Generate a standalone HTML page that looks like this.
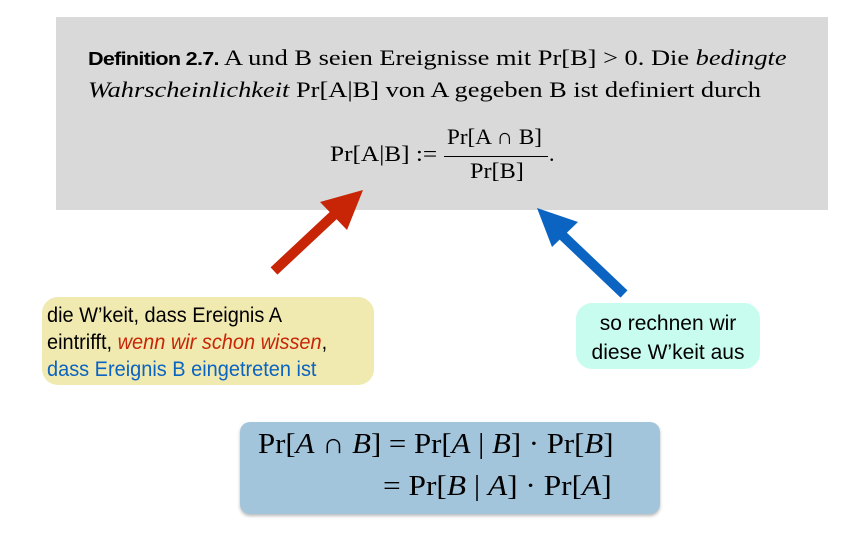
<!DOCTYPE html>
<html><head><style>
body{margin:0;width:856px;height:536px;background:#fff;position:relative;overflow:hidden;font-family:"Liberation Serif",serif}
.a{position:absolute;white-space:nowrap;transform-origin:0 0}
.s{font-family:"Liberation Sans",sans-serif;font-size:20px;line-height:27px}
</style></head><body>
<div class="a" style="left:56px;top:17px;width:772px;height:193px;background:#d9d9d9"></div>
<div class="a" style="left:88px;top:45px;font-size:22px;transform:scaleX(1.2)"><span style="font-family:'Liberation Sans',sans-serif;font-weight:bold;font-size:18px;letter-spacing:-0.6px">Definition 2.7.</span> A und B seien Ereignisse mit Pr[B] &gt; 0. Die <i>bedingte</i></div>
<div class="a" style="left:88px;top:77px;font-size:22px;transform:scaleX(1.2)"><i>Wahrscheinlichkeit</i> Pr[A|B] von A gegeben B ist definiert durch</div>
<div class="a" style="left:330px;top:141px;font-size:22px;transform:scaleX(1.15)">Pr[A|B] :=</div>
<div class="a" style="left:447px;top:124px;font-size:22px;transform:scaleX(1.05)">Pr[A ∩ B]</div>
<div class="a" style="left:444px;top:156px;width:104px;border-top:1px solid #000"></div>
<div class="a" style="left:470px;top:158px;font-size:22px;transform:scaleX(1.1)">Pr[B]</div>
<div class="a" style="left:549px;top:141px;font-size:22px">.</div>
<svg class="a" style="left:0;top:0" width="856" height="536">
<line x1="274" y1="271" x2="337" y2="212" stroke="#c82506" stroke-width="10"/>
<polygon points="363,190 347,230 320,202" fill="#c82506"/>
<line x1="624" y1="294" x2="562" y2="235" stroke="#0b64c1" stroke-width="10"/>
<polygon points="537,208 578,222 552,247" fill="#0b64c1"/>
</svg>
<div class="a" style="left:42px;top:297px;width:332px;height:88px;background:#f0e9b0;border-radius:16px"></div>
<div class="a s" style="left:47px;top:302px;font-size:21px;transform:scaleX(0.95)">die W’keit, dass Ereignis A<br>eintrifft, <i style="color:#c82506">wenn wir schon wissen</i>,<br><span style="color:#0b64c1">dass Ereignis B eingetreten ist</span></div>
<div class="a" style="left:576px;top:303px;width:184px;height:66px;background:#c8fcef;border-radius:16px"></div>
<div class="a s" style="left:576px;top:309px;width:184px;text-align:center;font-size:21px;line-height:29px">so rechnen wir<br>diese W’keit aus</div>
<div class="a" style="left:240px;top:422px;width:420px;height:92px;background:#a3c5dc;border-radius:10px;box-shadow:0 2px 3px #bbb"></div>
<div class="a" style="left:258px;top:429px;font-size:28px;transform:scaleX(1.1)">Pr[<i>A</i> ∩ <i>B</i>] = Pr[<i>A</i> | <i>B</i>] · Pr[<i>B</i>]</div>
<div class="a" style="left:383px;top:471px;font-size:28px;transform:scaleX(1.12)">= Pr[<i>B</i> | <i>A</i>] · Pr[<i>A</i>]</div>
</body></html>
